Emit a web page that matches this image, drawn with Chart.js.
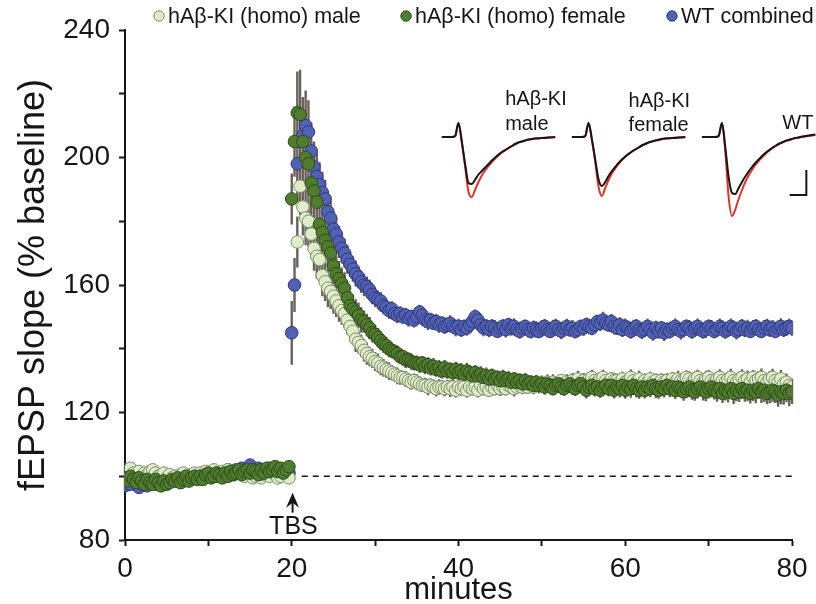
<!DOCTYPE html>
<html>
<head>
<meta charset="utf-8">
<script src="https://cdn.jsdelivr.net/npm/chart.js@4.4.0/dist/chart.umd.min.js"></script>
<style>
  html, body { margin: 0; padding: 0; background: #fff; }
</style>
</head>
<body>
<canvas id="ltp" width="816" height="604"></canvas>
<script>
(function () {
    'use strict';

    // one sweep every 20 s, TBS delivered at 20 min
    const SWEEP_MIN = 1 / 3;
    const TBS_MIN = 20;

    // fEPSP slope, % baseline ------------------------------------------
    const maleBaseline = [
        102, 101.5, 102.5, 101, 100.5, 101.5, 100, 101, 100.5,
        101.5, 102, 101, 100, 100.5, 101, 99.5, 100.5, 99.5,
        100, 99, 100.5, 101, 100, 99.5, 100.5, 101, 100,
        101, 100, 101.5, 100.5, 101, 102, 101, 100.5, 101.5,
        101, 102, 101.5, 100.5, 101, 102, 101.5, 100, 101,
        100.5, 99.5, 100, 101, 99.5, 100.5, 101, 100, 101.5,
        100.5, 99.5, 100, 101, 100.5, 99.5,
    ];
    const femaleBaseline = [
        99.5, 98.5, 100, 99, 98, 99.5, 98.5, 97.5, 99,
        98, 97.5, 99, 98, 97, 98.5, 97.5, 98, 99,
        98.5, 99.5, 98, 99, 100, 98.5, 99.5, 100, 99,
        100, 99, 100.5, 101, 99.5, 100, 101, 100.5, 99.5,
        101, 100, 101.5, 100.5, 101, 102, 100.5, 101.5, 102,
        101, 102, 101.5, 100.5, 102, 101, 102.5, 101.5, 102,
        103, 101.5, 102.5, 101, 102, 103,
    ];
    const wtBaseline = [
        97, 98, 97.5, 99, 98, 96.5, 97.5, 98.5, 97,
        98, 99, 97.5, 98.5, 99.5, 98, 99, 98.5, 99.5,
        99, 100, 99.5, 98.5, 100, 99, 100.5, 99.5, 100,
        100.5, 99.5, 101, 100, 100.5, 101.5, 100, 101, 100.5,
        101, 102, 100.5, 101.5, 102, 101, 102.5, 101.5, 102,
        103.5, 102, 101, 102.5, 101.5, 102, 101, 102.5, 101.5,
        101, 102, 100.5, 101.5, 102, 101,
    ];

    const malePost = [
        null, null, 173.5, 191, 184.5, 181, 180, 176, 171.5,
        169, 168, 163, 161, 159, 158, 156.5, 155, 153.5,
        152, 151, 149, 147, 145.5, 143, 142, 141, 139.5,
        138.5, 137.5, 137, 136, 135.5, 134.5, 134, 133.5, 133,
        132.5, 132, 131.5, 131, 131, 130.5, 130, 129.5, 130,
        129.5, 129, 128.5, 128.5, 128, 128.5, 128, 127.5, 128,
        128, 127.5, 128, 127.5, 128, 127, 128, 127.5, 128,
        127, 128, 127.5, 128, 127, 128.5, 127.5, 128, 127,
        128, 127.5, 128.5, 127.5, 128, 127.5, 128.5, 128, 127.5,
        128, 128.5, 128, 128.5, 128, 129, 128, 129, 128.5,
        129, 128.5, 129.5, 128.5, 129.5, 129, 129, 130, 129,
        129.5, 129, 130, 129, 130.5, 129.5, 130, 129.5, 130.5,
        131, 130, 129.5, 130.5, 131, 130, 129.5, 130.5, 130,
        130, 129.5, 130.5, 129.5, 130, 131, 130, 129.5, 130.5,
        129, 130, 129.5, 130.5, 129.5, 130, 129, 130, 129.5,
        130, 129, 130.5, 129.5, 130.5, 130, 130, 131, 130.5,
        129.5, 130.5, 131, 130, 129.5, 130.5, 131, 130, 129.5,
        130.5, 131, 130, 129.5, 130.5, 131, 130, 129.5, 130.5,
        131, 130, 130.5, 129.5, 131, 130, 130.5, 131, 130,
        129.5, 130.5, 131, 130, 129.5, 130.5, 129, 129.5, 128.5,
        128,
    ];
    const femalePost = [
        187, 205, 214, 213.5, 205, 200, 198, 192, 189.5,
        186, 179, 176.5, 174, 172, 170, 166, 163.5, 162,
        160.5, 159, 156, 153.5, 152.5, 151.5, 150.5, 149, 148.5,
        147.5, 146.5, 145, 144.5, 143.5, 142.5, 141.5, 141, 140,
        139.5, 139, 138.5, 137.5, 137.5, 136.5, 136.5, 136, 135.5,
        135.5, 135, 135.5, 134.5, 135, 134, 134.5, 133.5, 134,
        133, 134, 133, 133.5, 132.5, 133.5, 132.5, 133, 132,
        133, 132.5, 131.5, 132.5, 131.5, 132, 131, 131.5, 130.5,
        131.5, 130.5, 131, 130, 131, 130, 130.5, 129.5, 130.5,
        129.5, 130, 129, 130, 129, 129.5, 128.5, 129.5, 128.5,
        129, 128, 129, 128.5, 127.5, 128.5, 129, 128, 127.5,
        128.5, 129, 128, 127.5, 128.5, 129, 128, 127, 128,
        128.5, 127.5, 128, 127, 128, 128.5, 127.5, 128.5, 127,
        128, 127.5, 128.5, 127, 128, 127.5, 128.5, 127.5, 127,
        128, 127, 128, 127.5, 128.5, 127.5, 127, 128, 127.5,
        128.5, 127.5, 128, 127, 128, 127.5, 126.5, 127.5, 128,
        127, 126.5, 127.5, 128, 127, 126.5, 127.5, 128, 127,
        126.5, 127.5, 126, 127, 126.5, 127.5, 126, 127, 126.5,
        127.5, 126.5, 127, 126, 127, 126.5, 127.5, 126.5, 127,
        126, 126.5, 127, 126.5, 125.5, 126.5, 126, 127, 126,
        126.5,
    ];
    const wtPost = [
        145, 160, 198, 205, 207, 210, 208, 202, 197,
        194, 191.5, 189, 187, 183, 181, 177.5, 176, 173.5,
        171.5, 170, 168, 166.5, 165, 163.5, 162.5, 161, 160,
        159.5, 158.5, 157, 156, 155.5, 155, 153.5, 153, 152,
        152.5, 151, 150.5, 151, 150, 150.5, 149.5, 150, 149,
        150, 151.5, 150.5, 149, 148.5, 149, 148, 148.5, 147.5,
        148, 147, 147.5, 148, 147, 146.5, 147, 146, 147,
        146.5, 147.5, 148.5, 150, 149, 147.5, 146.5, 147, 146,
        147, 146.5, 145.5, 146.5, 147, 146, 147.5, 146.5, 147,
        146, 145.5, 146.5, 147, 146, 145.5, 146.5, 146, 145.5,
        146.5, 147, 146, 145.5, 146.5, 147, 146, 145.5, 146.5,
        147, 146, 146.5, 145.5, 146, 147, 146.5, 147.5, 147,
        146.5, 147.5, 148.5, 148, 149, 148, 147.5, 148.5, 147,
        146.5, 147.5, 146, 147, 146.5, 145.5, 146.5, 147, 146,
        145.5, 146, 147, 146, 145, 146.5, 145.5, 146.5, 145,
        146, 145.5, 146.5, 147, 146, 145.5, 146, 147, 146.5,
        145.5, 146.5, 147, 146, 145.5, 146, 147, 146.5, 145.5,
        146, 147, 146.5, 145.5, 146, 147, 146.5, 145.5, 146,
        147, 146, 146.5, 145.5, 146.5, 147, 146, 145.5, 146.5,
        147, 146, 146.5, 145.5, 146.5, 147, 146, 146.5, 147,
        146.5,
    ];

    // s.e.m. (same indexing as the slope arrays)
    const maleBaselineSem = [
        1.6, 1.4, 1.8, 1.5, 1.3, 1.7, 1.5, 1.6, 1.4,
        1.5, 1.7, 1.4, 1.6, 1.5, 1.3, 1.6, 1.4, 1.5,
        1.4, 1.6, 1.5, 1.3, 1.5, 1.7, 1.4, 1.5, 1.6,
        1.5, 1.4, 1.6, 1.5, 1.3, 1.5, 1.4, 1.6, 1.5,
        1.4, 1.5, 1.6, 1.4, 1.5, 1.3, 1.6, 1.5, 1.4,
        1.6, 1.5, 1.4, 1.5, 1.7, 1.4, 1.5, 1.6, 1.5,
        1.8, 1.6, 1.5, 1.7, 1.6, 1.9,
    ];
    const femaleBaselineSem = [
        1.5, 1.7, 1.4, 1.6, 1.8, 1.5, 1.4, 1.6, 1.5,
        1.7, 1.5, 1.4, 1.6, 1.5, 1.7, 1.4, 1.5, 1.6,
        1.5, 1.4, 1.6, 1.5, 1.3, 1.6, 1.5, 1.4, 1.6,
        1.4, 1.6, 1.5, 1.3, 1.5, 1.6, 1.4, 1.5, 1.7,
        1.5, 1.4, 1.6, 1.5, 1.4, 1.6, 1.5, 1.7, 1.4,
        1.5, 1.6, 1.4, 1.7, 1.5, 1.6, 1.4, 1.5, 1.7,
        1.6, 1.8, 1.5, 1.7, 1.9, 1.6,
    ];
    const wtBaselineSem = [
        1.8, 1.6, 1.7, 1.5, 1.8, 1.6, 1.5, 1.7, 1.6,
        1.5, 1.7, 1.6, 1.4, 1.6, 1.5, 1.7, 1.5, 1.6,
        1.6, 1.5, 1.4, 1.6, 1.5, 1.7, 1.5, 1.6, 1.4,
        1.5, 1.6, 1.5, 1.7, 1.4, 1.6, 1.5, 1.4, 1.6,
        1.7, 1.5, 1.6, 1.4, 1.5, 1.7, 1.6, 1.5, 1.4,
        1.8, 1.6, 1.5, 1.7, 1.5, 1.6, 1.4, 1.7, 1.5,
        1.6, 1.7, 1.5, 1.8, 1.6, 1.7,
    ];
    const malePostSem = [
        null, null, 8, 9, 9, 8.5, 8, 7.5, 7,
        7, 6.5, 6.5, 6, 6, 5.5, 5.5, 5, 5,
        4.5, 4.5, 4.5, 4, 4, 4, 3.5, 3.5, 3.5,
        3.5, 3, 3, 3, 3, 2.8, 2.8, 2.6, 2.8,
        2.4, 2.2, 2.6, 2.3, 2.1, 2.5, 2.3, 2.4, 2.2,
        2.5, 2.3, 2.1, 2.4, 2.6, 2.2, 2.3, 2.5, 2.4,
        2.2, 2.4, 2.3, 2.6, 2.1, 2.3, 2.5, 2.2, 2.4,
        2.3, 2.5, 2.2, 2.4, 2.3, 2.6, 2.2, 2.4, 2.1,
        2.4, 2.2, 2.5, 2.3, 2.4, 2.2, 2.6, 2.3, 2.5,
        2.2, 2.4, 2.3, 2.5, 2.1, 2.4, 2.3, 2.2, 2.5,
        2.3, 2.6, 2.4, 2.2, 2.5, 2.3, 2.4, 2.1, 2.3,
        2.5, 2.2, 2.4, 2.3, 2.6, 2.2, 2.4, 2.5, 2.3,
        2.4, 2.3, 2.5, 2.2, 2.4, 2.6, 2.3, 2.2, 2.5,
        2.2, 2.5, 2.3, 2.4, 2.2, 2.5, 2.4, 2.3, 2.6,
        2.4, 2.2, 2.6, 2.3, 2.5, 2.2, 2.4, 2.3, 2.5,
        2.3, 2.5, 2.2, 2.4, 2.6, 2.3, 2.5, 2.2, 2.4,
        2.5, 2.3, 2.4, 2.6, 2.2, 2.5, 2.3, 2.4, 2.6,
        2.4, 2.6, 2.3, 2.5, 2.4, 2.7, 2.3, 2.5, 2.4,
        2.6, 2.4, 2.7, 2.5, 2.3, 2.6, 2.5, 2.8, 2.4,
        2.6, 2.5, 2.7, 2.4, 2.6, 2.8, 2.5, 2.7, 2.6,
        2.6,
    ];
    const femalePostSem = [
        8, 11, 13, 14, 13, 12, 10, 9, 8.5,
        8, 7.5, 7, 6.5, 6.5, 6, 6, 5.5, 5.5,
        5, 5, 4.5, 4.5, 4.5, 4, 4, 4, 3.5,
        3.5, 3.5, 3, 3, 3, 3, 2.8, 2.8, 2.7,
        2.5, 2.3, 2.6, 2.4, 2.2, 2.5, 2.4, 2.6, 2.3,
        2.4, 2.6, 2.2, 2.5, 2.3, 2.4, 2.6, 2.3, 2.5,
        2.3, 2.5, 2.4, 2.2, 2.6, 2.4, 2.3, 2.5, 2.2,
        2.6, 2.3, 2.5, 2.4, 2.2, 2.5, 2.3, 2.6, 2.4,
        2.3, 2.5, 2.2, 2.6, 2.4, 2.3, 2.5, 2.4, 2.2,
        2.5, 2.3, 2.6, 2.4, 2.5, 2.2, 2.6, 2.3, 2.4,
        2.6, 2.4, 2.3, 2.5, 2.2, 2.4, 2.6, 2.5, 2.3,
        2.4, 2.6, 2.5, 2.3, 2.5, 2.7, 2.4, 2.6, 2.5,
        2.7, 2.5, 2.6, 2.4, 2.8, 2.6, 2.5, 2.7, 2.6,
        2.5, 2.8, 2.6, 2.7, 2.5, 2.9, 2.6, 2.8, 2.7,
        2.8, 2.6, 2.9, 2.7, 2.8, 3, 2.7, 2.9, 2.8,
        2.9, 2.7, 3, 2.8, 3.1, 2.9, 2.8, 3, 3.2,
        3, 2.8, 3.1, 2.9, 3.2, 3, 3.1, 3.3, 2.9,
        3.1, 3.3, 3, 3.2, 3.4, 3.1, 3.3, 3.5, 3.2,
        3.3, 3.1, 3.5, 3.2, 3.4, 3.6, 3.3, 3.5, 3.7,
        3.4, 3.6, 3.8, 3.5, 3.7, 3.9, 3.6, 3.8, 4,
        3.8,
    ];
    const wtPostSem = [
        10, 8.5, 12, 13, 12, 11, 10, 9, 8,
        7.5, 7, 6.5, 6, 6, 5.5, 5.5, 5, 5,
        4.5, 4.5, 4.5, 4, 4, 4, 3.5, 3.5, 3.5,
        3.2, 3.2, 3, 3, 2.8, 2.8, 2.7, 2.6, 2.7,
        2.4, 2.2, 2.5, 2.3, 2.1, 2.4, 2.6, 2.2, 2.3,
        2.5, 2.3, 2.2, 2.4, 2.6, 2.3, 2.1, 2.4, 2.5,
        2.2, 2.4, 2.3, 2.5, 2.2, 2.6, 2.4, 2.3, 2.1,
        2.4, 2.2, 2.5, 2.3, 2.4, 2.2, 2.6, 2.3, 2.4,
        2.3, 2.5, 2.1, 2.4, 2.3, 2.5, 2.2, 2.4, 2.6,
        2.2, 2.4, 2.3, 2.2, 2.5, 2.3, 2.4, 2.6, 2.2,
        2.5, 2.3, 2.4, 2.2, 2.6, 2.4, 2.3, 2.5, 2.2,
        2.4, 2.2, 2.5, 2.3, 2.4, 2.1, 2.5, 2.3, 2.4,
        2.3, 2.5, 2.2, 2.4, 2.6, 2.3, 2.2, 2.4, 2.5,
        2.2, 2.4, 2.3, 2.5, 2.2, 2.4, 2.6, 2.3, 2.4,
        2.5, 2.3, 2.4, 2.2, 2.5, 2.3, 2.4, 2.2, 2.6,
        2.3, 2.4, 2.2, 2.5, 2.3, 2.6, 2.4, 2.2, 2.5,
        2.4, 2.2, 2.5, 2.3, 2.4, 2.6, 2.2, 2.5, 2.3,
        2.2, 2.5, 2.3, 2.4, 2.2, 2.5, 2.3, 2.6, 2.4,
        2.3, 2.4, 2.6, 2.2, 2.5, 2.3, 2.4, 2.2, 2.5,
        2.4, 2.3, 2.5, 2.2, 2.4, 2.6, 2.3, 2.5, 2.4,
        2.4,
    ];

    // representative sweeps (mV, 1 ms per sample): black = baseline, red = after TBS
    const TRACE_STEP_MS = 1;
    const maleBlack = [0, 0, 0, 0, 0.02, 0.28, -0.1, -0.55, -0.92, -0.94, -0.85, -0.75, -0.68, -0.61, -0.54, -0.47, -0.41, -0.35, -0.3, -0.26, -0.22, -0.18, -0.14, -0.11, -0.09, -0.07, -0.05, -0.04, -0.03, -0.03, -0.02, -0.02, -0.01, -0.01, 0];
    const maleRed = [0, 0, 0, 0, 0.02, 0.28, -0.1, -0.6, -1.1, -1.2, -1.05, -0.9, -0.77, -0.67, -0.58, -0.5, -0.43, -0.37, -0.31, -0.27, -0.22, -0.18, -0.14, -0.11, -0.09, -0.07, -0.05, -0.04, -0.03, -0.02, -0.02, -0.01, -0.01, 0, 0];
    const femaleBlack = [0, 0, 0, 0, 0.02, 0.28, -0.05, -0.45, -0.85, -0.98, -0.9, -0.78, -0.68, -0.6, -0.52, -0.45, -0.39, -0.34, -0.29, -0.25, -0.21, -0.17, -0.14, -0.11, -0.09, -0.07, -0.06, -0.04, -0.03, -0.03, -0.02, -0.02, -0.01, -0.01, 0];
    const femaleRed = [0, 0, 0, 0, 0.02, 0.28, -0.05, -0.5, -1.0, -1.18, -1.02, -0.86, -0.73, -0.63, -0.54, -0.46, -0.4, -0.34, -0.29, -0.25, -0.21, -0.17, -0.14, -0.11, -0.09, -0.07, -0.05, -0.04, -0.03, -0.02, -0.02, -0.01, -0.01, 0, 0];
    const wtBlack = [0, 0, 0, 0, 0, 0.02, 0.28, -0.2, -0.8, -1.12, -1.14, -1.02, -0.9, -0.79, -0.69, -0.6, -0.52, -0.45, -0.38, -0.32, -0.27, -0.22, -0.18, -0.14, -0.11, -0.08, -0.06, -0.04, -0.02, -0.01, 0.01, 0.02, 0.03, 0.04, 0.05];
    const wtRed = [0, 0, 0, 0, 0, 0.02, 0.28, -0.3, -1.2, -1.58, -1.45, -1.24, -1.06, -0.9, -0.77, -0.66, -0.56, -0.48, -0.41, -0.34, -0.28, -0.23, -0.18, -0.14, -0.11, -0.08, -0.06, -0.04, -0.02, -0.01, 0, 0.01, 0.02, 0.03, 0.04];
    const SCALE_BAR = { ms: 5, mv: 0.5 };

    const xTicks = { min: 0, max: 80, step: 10, labelEvery: 20 };
    const yTicks = { min: 80, max: 240, step: 20, labelEvery: 40 };

    // layout -----------------------------------------------------------
    const FONT = '"Liberation Sans", Arial, Helvetica, sans-serif';
    const INK = '#161616';
    const ERR = '#6b615b';
    // hidden inset axes: ms across the plot width, mV with 0 at the sweep baseline
    const INSET_X = { min: 0, max: 200 };
    const INSET_Y = { min: -8.06, max: 2.14 };
    const traceStartMs = [95, 134, 173];
    const scaleBarCorner = { ms: 204.3, mv: -1.16 };
    const insetLabels = [
        { ms: 114, mv: [0.76, 0.26], lines: ['hAβ-KI', 'male'] },
        { ms: 151, mv: [0.71, 0.24], lines: ['hAβ-KI', 'female'] },
        { ms: 197.1, mv: [0.28], lines: ['WT'] },
    ];
    const tbsArrow = { x: 20.1, tip: 94.8, tail: 88.6 };
    const tbsLabel = { x: 20.2, y: 84.0 };
    const dashStart = 21.2;

    const groups = [
        { label: 'hAβ-KI (homo) male', base: maleBaseline, post: malePost, baseSem: maleBaselineSem, postSem: malePostSem, fill: '#dfecc9', edge: '#7d8f69', order: 2, legendX: 159 },
        { label: 'hAβ-KI (homo) female', base: femaleBaseline, post: femalePost, baseSem: femaleBaselineSem, postSem: femalePostSem, fill: '#507d2d', edge: '#2e4a1a', order: 1, legendX: 406 },
        { label: 'WT combined', base: wtBaseline, post: wtPost, baseSem: wtBaselineSem, postSem: wtPostSem, fill: '#5161b3', edge: '#2f3a7c', order: 3, legendX: 672 },
    ];

    const toPoints = (g) => {
        const pts = [];
        g.base.forEach((v, i) => pts.push({ x: i * SWEEP_MIN, y: v, err: g.baseSem[i] }));
        g.post.forEach((v, i) => { if (v != null) pts.push({ x: TBS_MIN + i * SWEEP_MIN, y: v, err: g.postSem[i] }); });
        return pts;
    };

    const scatterSets = groups.map(g => ({
        type: 'scatter',
        label: g.label,
        data: toPoints(g),
        backgroundColor: g.fill,
        borderColor: g.edge,
        borderWidth: 1,
        pointRadius: 6.3,
        pointHoverRadius: 6.3,
        order: g.order,
        semBars: true,
    }));

    const sweep = (vals, start, color) => ({
        type: 'line',
        data: vals.map((v, i) => ({ x: start + i * TRACE_STEP_MS, y: v })),
        xAxisID: 'tx', yAxisID: 'ty',
        borderColor: color, borderWidth: 2,
        pointRadius: 0, cubicInterpolationMode: 'monotone',
        clip: false, order: 0,
    });
    const traceSets = [
        sweep(maleBlack, traceStartMs[0], INK), sweep(maleRed, traceStartMs[0], '#e8302a'),
        sweep(femaleBlack, traceStartMs[1], INK), sweep(femaleRed, traceStartMs[1], '#e8302a'),
        sweep(wtBlack, traceStartMs[2], INK), sweep(wtRed, traceStartMs[2], '#e8302a'),
    ];
    const c = scaleBarCorner;
    traceSets.push({
        type: 'line',
        data: [{ x: c.ms - SCALE_BAR.ms, y: c.mv }, { x: c.ms, y: c.mv }, { x: c.ms, y: c.mv + SCALE_BAR.mv }],
        xAxisID: 'tx', yAxisID: 'ty', borderColor: INK, borderWidth: 2,
        pointRadius: 0, clip: false, order: 0,
    });

    const baselineDash = {
        type: 'line',
        data: [{ x: dashStart, y: 100 }, { x: xTicks.max, y: 100 }],
        borderColor: INK, borderWidth: 1.6, borderDash: [6, 5],
        pointRadius: 0, order: 5,
    };

    const errorBars = {
        id: 'errorBars',
        beforeDatasetsDraw(chart) {
            const { ctx, scales: { x, y } } = chart;
            ctx.save();
            ctx.strokeStyle = ERR;
            ctx.lineWidth = 2.4;
            ctx.beginPath();
            chart.data.datasets.forEach(ds => {
                if (!ds.semBars) return;
                ds.data.forEach(p => {
                    if (p.err == null) return;
                    const px = x.getPixelForValue(p.x);
                    ctx.moveTo(px, y.getPixelForValue(p.y - p.err));
                    ctx.lineTo(px, y.getPixelForValue(p.y + p.err));
                });
            });
            ctx.stroke();
            ctx.restore();
        },
    };

    const overlay = {
        id: 'overlay',
        afterDatasetsDraw(chart) {
            const { ctx, scales: { x, y, tx, ty } } = chart;
            ctx.save();
            ctx.fillStyle = INK;
            ctx.strokeStyle = INK;

            // TBS arrow
            const ax = x.getPixelForValue(tbsArrow.x);
            const tip = y.getPixelForValue(tbsArrow.tip);
            ctx.lineWidth = 2;
            ctx.beginPath();
            ctx.moveTo(ax, y.getPixelForValue(tbsArrow.tail));
            ctx.lineTo(ax, tip + 8);
            ctx.stroke();
            ctx.beginPath();
            ctx.moveTo(ax, tip);
            ctx.lineTo(ax + 6.5, tip + 15);
            ctx.lineTo(ax, tip + 10);
            ctx.lineTo(ax - 6.5, tip + 15);
            ctx.closePath();
            ctx.fill();
            ctx.font = '25px ' + FONT;
            ctx.textAlign = 'center';
            ctx.textBaseline = 'middle';
            ctx.fillText('TBS', x.getPixelForValue(tbsLabel.x), y.getPixelForValue(tbsLabel.y));

            // inset captions
            ctx.font = '20px ' + FONT;
            ctx.textAlign = 'left';
            insetLabels.forEach(l => l.lines.forEach((t, k) =>
                ctx.fillText(t, tx.getPixelForValue(l.ms), ty.getPixelForValue(l.mv[k]))));

            // legend
            ctx.font = '21.5px ' + FONT;
            groups.forEach(g => {
                ctx.beginPath();
                ctx.arc(g.legendX, 16, 5.2, 0, Math.PI * 2);
                ctx.fillStyle = g.fill;
                ctx.fill();
                ctx.lineWidth = 1;
                ctx.strokeStyle = g.edge;
                ctx.stroke();
                ctx.fillStyle = INK;
                ctx.fillText(g.label, g.legendX + 9, 17);
            });
            ctx.restore();
        },
    };

    const axisStyle = {
        border: { color: INK, width: 2 },
        grid: { drawOnChartArea: false, drawTicks: true, tickLength: 6, tickWidth: 2, color: INK },
    };
    // inset axes take their range after the data pass, so every sample of a sweep is drawn
    const insetAxis = (axis, range) => ({
        type: 'linear', axis, display: false, bounds: 'data',
        afterDataLimits: (s) => { s.min = range.min; s.max = range.max; },
    });

    new Chart(document.getElementById('ltp'), {
        type: 'scatter',
        data: { datasets: [...scatterSets, ...traceSets, baselineDash] },
        options: {
            responsive: false,
            devicePixelRatio: 1,
            animation: false,
            layout: { padding: { top: 30, right: 24, left: 0, bottom: 0 } },
            font: { family: FONT },
            plugins: { legend: { display: false }, tooltip: { enabled: false } },
            scales: {
                x: {
                    type: 'linear', min: xTicks.min, max: xTicks.max, ...axisStyle,
                    afterFit: (s) => { s.height = 64; },
                    ticks: {
                        stepSize: xTicks.step, autoSkip: false, maxRotation: 0, padding: 6,
                        color: INK, font: { family: FONT, size: 28 },
                        callback: (v) => (v % xTicks.labelEvery === 0 ? v : ''),
                    },
                    title: { display: true, text: 'minutes', color: INK, font: { family: FONT, size: 31 }, padding: { top: 0, bottom: -5 } },
                },
                y: {
                    type: 'linear', min: yTicks.min, max: yTicks.max, ...axisStyle,
                    afterFit: (s) => { s.width = 125; },
                    ticks: {
                        stepSize: yTicks.step, autoSkip: false, padding: 9,
                        color: INK, font: { family: FONT, size: 28 },
                        callback: (v) => (v % yTicks.labelEvery === 0 ? v : ''),
                    },
                    title: { display: true, text: 'fEPSP slope (% baseline)', color: INK, font: { family: FONT, size: 36 }, padding: { top: 12, bottom: 0 } },
                },
                tx: insetAxis('x', INSET_X),
                ty: insetAxis('y', INSET_Y),
            },
        },
        plugins: [errorBars, overlay],
    });
})();
</script>
</body>
</html>
